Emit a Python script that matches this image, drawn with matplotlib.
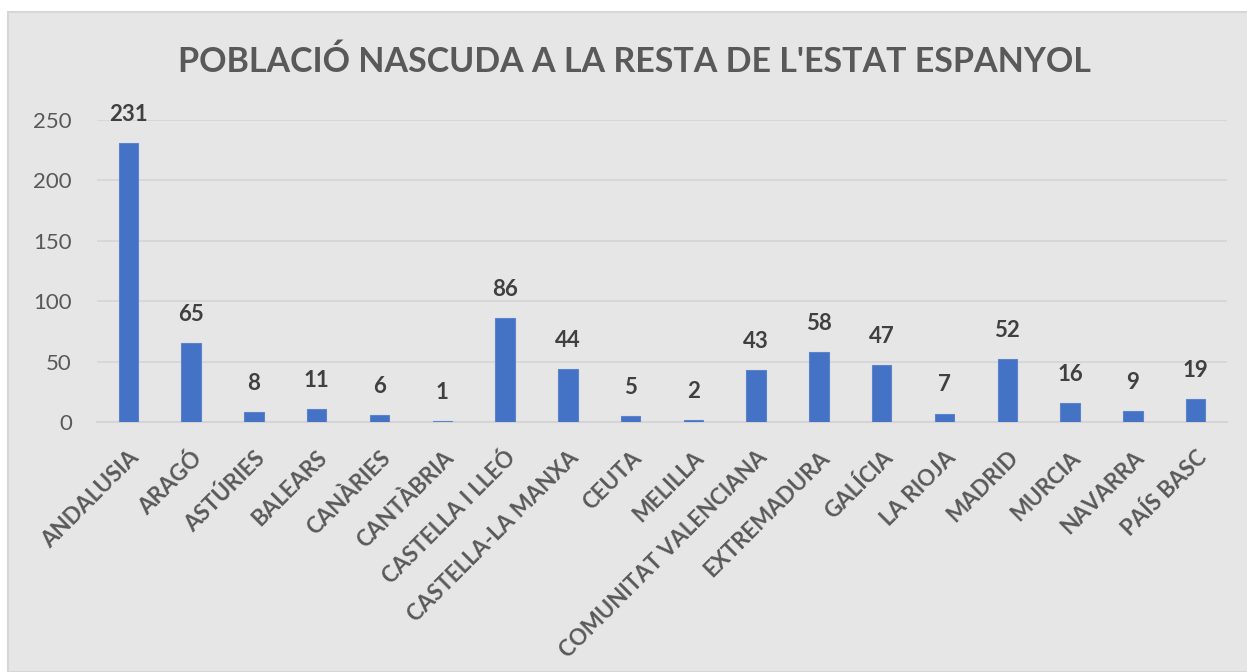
import matplotlib.pyplot as plt
from matplotlib.patches import Rectangle

regions = ["ANDALUSIA", "ARAGÓ", "ASTÚRIES", "BALEARS", "CANÀRIES", "CANTÀBRIA",
           "CASTELLA I LLEÓ", "CASTELLA-LA MANXA", "CEUTA", "MELILLA",
           "COMUNITAT VALENCIANA", "EXTREMADURA", "GALÍCIA", "LA RIOJA",
           "MADRID", "MURCIA", "NAVARRA", "PAÍS BASC"]
values = [231, 65, 8, 11, 6, 1, 86, 44, 5, 2, 43, 58, 47, 7, 52, 16, 9, 19]
yticks = [0, 50, 100, 150, 200, 250]

plt.rcParams['font.family'] = ['Lato', 'DejaVu Sans']

W, H = 1247, 672
fig = plt.figure(figsize=(W / 100, H / 100), dpi=100)
fig.patch.set_facecolor('white')

# grey chart area
fig.patches.append(Rectangle((8 / W, 0), 1, 1 - 12 / H, transform=fig.transFigure,
                             facecolor='#e6e6e6', edgecolor='#d6d6d6', linewidth=1.5,
                             zorder=-10))

ax = fig.add_axes([97 / W, 1 - 422 / H, (1227 - 97) / W, (422 - 120) / H])
ax.set_facecolor('none')
ax.set_zorder(1)

x = range(len(regions))
bars = ax.bar(x, values, width=0.31, color='#4472c4', edgecolor='#5b84cc',
              linewidth=0.8, zorder=3)
for xi, v in zip(x, values):
    ax.annotate(str(v), (xi, v), xytext=(0, 13), textcoords='offset points',
                ha='center', va='bottom', fontsize=16, fontweight='bold',
                color='#404040', annotation_clip=False)

ax.set_xlim(-0.5, len(regions) - 0.5)
ax.set_ylim(0, 250)
ax.set_yticks(yticks)
ax.yaxis.grid(True, color='#d4d4d4', linewidth=1.2, zorder=0)
ax.set_axisbelow(True)
ax.tick_params(axis='y', length=0, labelsize=16, labelcolor='#595959', pad=18)
ax.tick_params(axis='x', length=0, pad=18)
ax.set_xticks(list(x))
ax.set_xticklabels(regions, rotation=45, ha='right', rotation_mode='anchor',
                   fontsize=16, fontweight='bold', color='#595959')
for s in ['top', 'right', 'left']:
    ax.spines[s].set_visible(False)
ax.spines['bottom'].set_color('#d4d4d4')
ax.spines['bottom'].set_linewidth(1.5)

fig.text(634 / W, 1 - 62 / H, "POBLACIÓ NASCUDA A LA RESTA DE L'ESTAT ESPANYOL",
         ha='center', va='center', fontsize=24.5, fontweight='bold', color='#595959')

fig.savefig('out.png', dpi=100)
